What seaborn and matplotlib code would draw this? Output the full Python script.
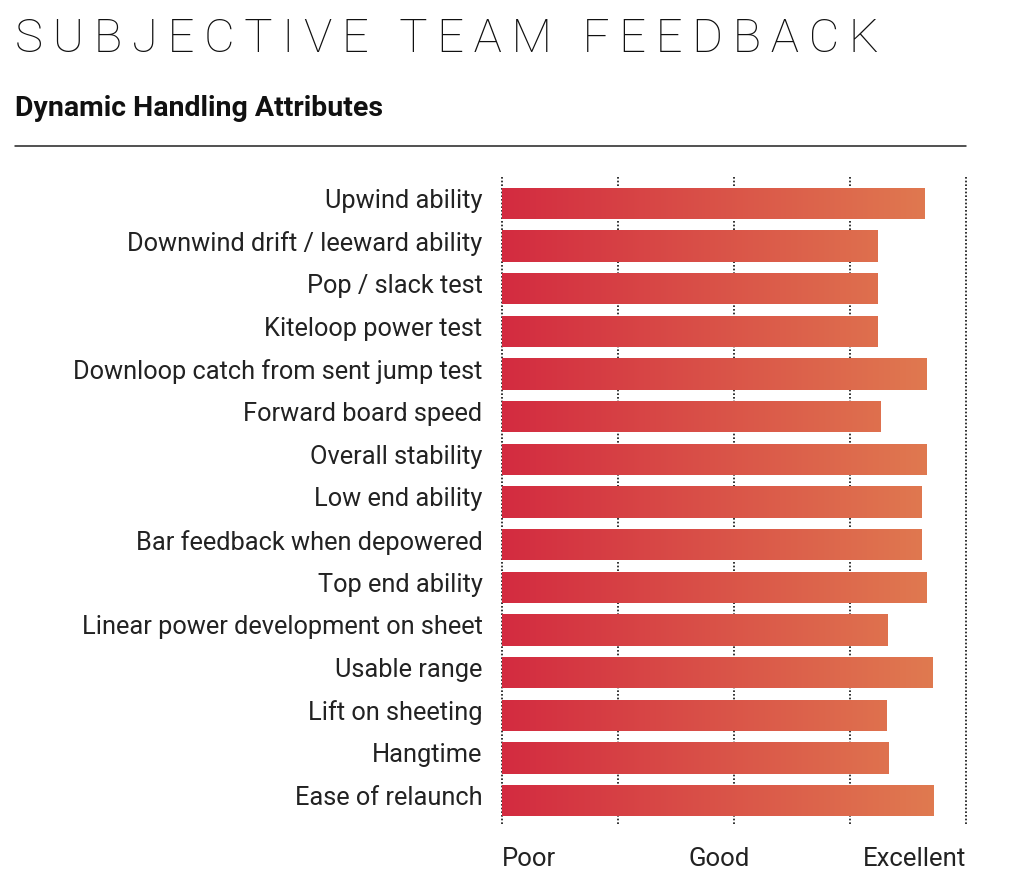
import numpy as np
import pandas as pd
import matplotlib
matplotlib.use("Agg")
import matplotlib.pyplot as plt
import matplotlib.transforms as mtransforms
from matplotlib.colors import LinearSegmentedColormap
import seaborn as sns

attributes = [
    "Upwind ability",
    "Downwind drift / leeward ability",
    "Pop / slack test",
    "Kiteloop power test",
    "Downloop catch from sent jump test",
    "Forward board speed",
    "Overall stability",
    "Low end ability",
    "Bar feedback when depowered",
    "Top end ability",
    "Linear power development on sheet",
    "Usable range",
    "Lift on sheeting",
    "Hangtime",
    "Ease of relaunch",
]
scores = [9.1, 8.1, 8.1, 8.1, 9.15, 8.15, 9.15, 9.05, 9.05, 9.15, 8.3, 9.28, 8.28, 8.33, 9.3]
scale_ticks = [0, 5, 10]
scale_labels = ["Poor", "Good", "Excellent"]
title = "SUBJECTIVE TEAM FEEDBACK"
subtitle = "Dynamic Handling Attributes"

sns.set_theme(style="white")
plt.rcParams["font.family"] = ["Roboto", "DejaVu Sans"]

df = pd.DataFrame({"attribute": attributes, "score": scores})

fig = plt.figure(figsize=(10.34, 8.96), dpi=100)
ax = fig.add_axes([0.4855, 0.0826, 0.4487, 0.7143])

sns.barplot(data=df, x="score", y="attribute", orient="h", ax=ax,
            width=0.73, color="#d9534a", edgecolor="none", linewidth=0, zorder=2)

# gradient fill
cmap = LinearSegmentedColormap.from_list("grad", ["#d32b40", "#e07a50"])
grad = np.linspace(0, 1, 256).reshape(1, -1)
gmax = max(scores)
for p in ax.patches:
    y0 = p.get_y()
    y1 = y0 + p.get_height()
    p.set_facecolor("none")
    im = ax.imshow(grad, cmap=cmap, aspect="auto", extent=(0, gmax, y1, y0),
                   zorder=3, interpolation="bilinear")
    im.set_clip_path(p)

ax.set_xlim(0, 10)
ax.set_ylim(len(attributes) - 0.5, -0.5)
ax.set_aspect("auto")

ax.vlines([0, 2.5, 5, 7.5, 10], -0.62, len(attributes) - 0.4, colors="#111111",
          linestyles=[(0, (1, 1.2))], linewidth=1.2, zorder=1, clip_on=False)

for s in ax.spines.values():
    s.set_visible(False)

ax.set_xlabel("")
ax.set_ylabel("")
ax.tick_params(axis="y", length=0, pad=14, labelsize=18.3, labelcolor="#222222")
ax.tick_params(axis="x", length=0, pad=18, labelsize=18.5, labelcolor="#222222")
ax.set_xticks(scale_ticks)
ax.set_xticklabels(scale_labels)
tl = ax.get_xticklabels()
tl[0].set_ha("left")
tl[1].set_ha("center")
tl[1].set_transform(tl[1].get_transform() + mtransforms.ScaledTranslation(-15 / 100, 0, fig.dpi_scale_trans))
tl[2].set_ha("right")
up = mtransforms.ScaledTranslation(0, 5 / 100, fig.dpi_scale_trans)
for t in ax.get_yticklabels():
    t.set_transform(t.get_transform() + up)

# titles
spaced = "\u2009".join(list(title))
fig.text(15 / 1034, 1 - 52 / 896, spaced, fontsize=34, fontweight="light",
         color="#111111", ha="left", va="baseline", family=["Roboto", "DejaVu Sans"])
fig.text(15 / 1034, 1 - 116 / 896, subtitle, fontsize=20.5, fontweight="bold",
         color="#111111", ha="left", va="baseline")
fig.add_artist(plt.Line2D([15 / 1034, 966 / 1034], [1 - 146 / 896, 1 - 146 / 896],
                          color="#222222", linewidth=1.1, transform=fig.transFigure))

fig.savefig("out.png", dpi=100, facecolor="white")
